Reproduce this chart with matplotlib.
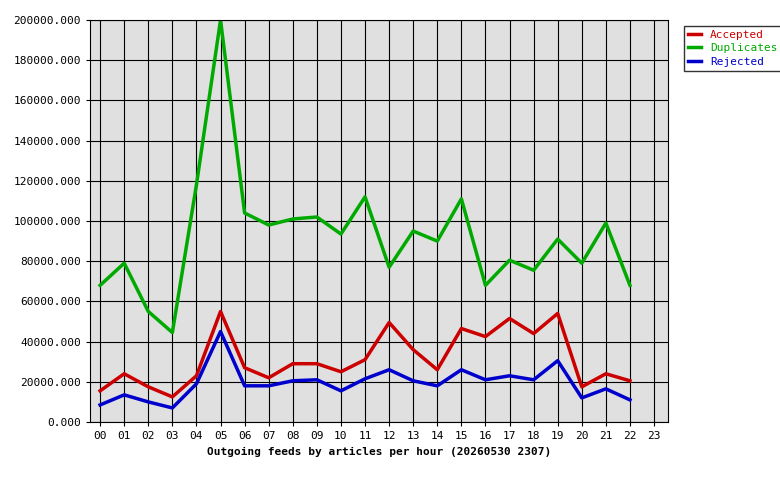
import matplotlib
matplotlib.use("Agg")
import matplotlib.pyplot as plt

hours = ["%02d" % h for h in range(24)]
accepted = [15500,24000,17500,12500,23000,55000,27000,22000,29000,29000,25000,31000,49500,36000,26000,46500,42500,51500,44000,54000,17500,24000,20500]
duplicates = [68000,79000,55000,44500,118000,200000,104000,98000,101000,102000,93500,112000,77000,95000,90000,111000,68000,80500,75500,91000,79000,99000,68000]
rejected = [8500,13500,10000,7000,19000,45000,18000,18000,20500,21000,15500,21500,26000,20500,18000,26000,21000,23000,21000,30500,12000,16500,11000]

plt.rcParams['font.family'] = ['DejaVu Sans Mono']
fig = plt.figure(figsize=(7.8, 4.8), dpi=100)
ax = fig.add_axes([90/780, 1-422/480, 578/780, 402/480])
ax.set_facecolor('#e0e0e0')
x = list(range(len(accepted)))
ax.plot(x, accepted, color='#cc0000', lw=2.5, label='Accepted')
ax.plot(x, duplicates, color='#00aa00', lw=2.5, label='Duplicates')
ax.plot(x, rejected, color='#0000cc', lw=2.5, label='Rejected')
ax.set_xlim(-0.42, 23.58)
ax.set_ylim(0, 200000)
ax.set_xticks(range(24))
ax.set_xticklabels(hours, fontsize=8)
yt = list(range(0, 200001, 20000))
ax.set_yticks(yt)
ax.set_yticklabels(["%d.000" % v for v in yt], fontsize=8)
ax.grid(True, color='black', lw=0.8)
ax.set_axisbelow(True)
ax.tick_params(length=3)
ax.set_xlabel("Outgoing feeds by articles per hour (20260530 2307)", fontsize=8, fontweight='bold')
leg = fig.legend(loc='upper left', bbox_to_anchor=(678/780, 1-20/480), fontsize=8,
                 frameon=True, fancybox=False, edgecolor='black', handlelength=1.2,
                 borderpad=0.4, labelspacing=0.3)
for t, c in zip(leg.get_texts(), ['#cc0000', '#00aa00', '#0000cc']):
    t.set_color(c)
fig.savefig("out.png", dpi=100)
